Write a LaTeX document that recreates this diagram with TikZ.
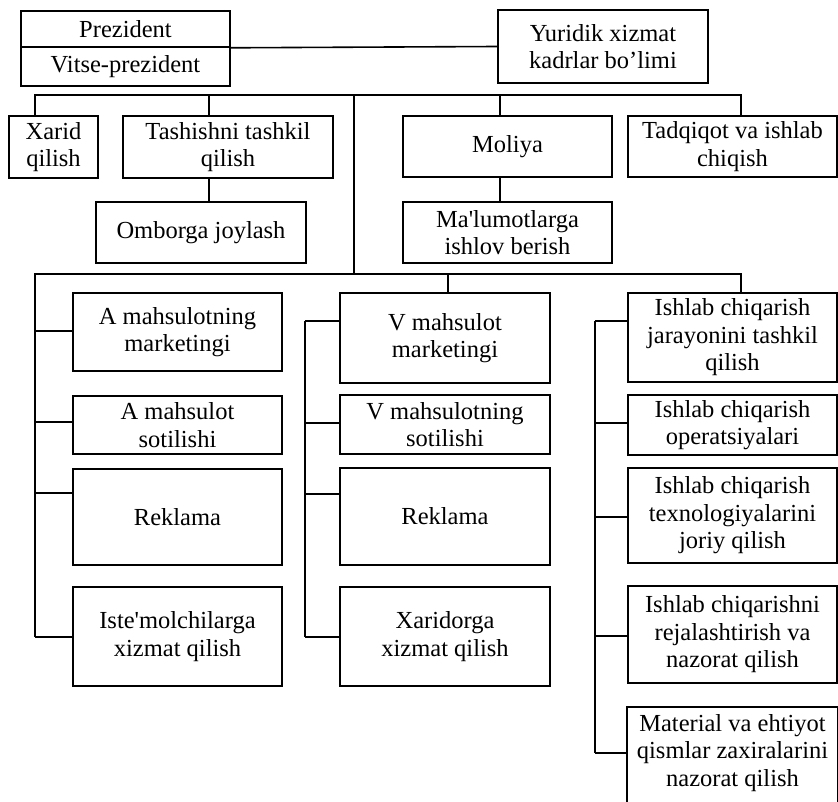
\documentclass[tikz,border=0pt]{standalone}
\usepackage{fontspec}
\setmainfont{Liberation Serif}
\begin{document}
\begin{tikzpicture}[x=1pt,y=-1pt, line width=1.6pt,
  box/.style={draw, inner sep=0pt, align=center,
    font=\fontsize{24.5}{27.5}\selectfont},
  txt/.style={inner sep=0pt, align=center, font=\fontsize{24.5}{27.5}\selectfont}]
\useasboundingbox (0,0) rectangle (838,802);
\clip (0,0) rectangle (838,802);
\fill[white] (0,0) rectangle (838,802);
% top boxes
\node[box, minimum width=209pt, minimum height=36pt] (pz) at (125.5,29) {Prezident};
\node[box, minimum width=209pt, minimum height=39pt] (vp) at (125.5,66.5) {Vitse-prezident};
\node[box, minimum width=210pt, minimum height=73pt] (yur) at (603,46.5) {Yuridik xizmat\\kadrlar bo’limi};
\node[box, minimum width=89pt, minimum height=62pt] (xarid) at (53.5,147) {Xarid\\qilish};
\node[box, minimum width=210pt, minimum height=62pt] (tash) at (228,147) {Tashishni tashkil\\qilish};
\node[box, minimum width=210pt, minimum height=61pt] (omb) at (201,232.5) {Omborga joylash};
\node[box, minimum width=209pt, minimum height=61pt] (mol) at (507.5,146.5) {Moliya};
\node[box, minimum width=209pt, minimum height=61pt] (tad) at (732.5,146.5) {Tadqiqot va ishlab\\chiqish};
\node[box, minimum width=209pt, minimum height=61pt] (mal) at (507.5,232.5) {Ma\textquotesingle lumotlarga\\ishlov berish};
% left column
\node[box, minimum width=209pt, minimum height=78pt] (a1) at (177.5,332) {A mahsulotning\\marketingi};
\node[box, minimum width=209pt, minimum height=58pt] (a2) at (177.5,425) {A mahsulot\\sotilishi};
\node[box, minimum width=209pt, minimum height=96pt] (a3) at (177.5,517) {Reklama};
\node[box, minimum width=209pt, minimum height=99pt] (a4) at (177.5,636.5) {Iste\textquotesingle molchilarga\\xizmat qilish};
% middle column
\node[box, minimum width=210pt, minimum height=90pt] (b1) at (445,338) {V mahsulot\\marketingi};
\node[box, minimum width=210pt, minimum height=59pt] (b2) at (445,424.5) {V mahsulotning\\sotilishi};
\node[box, minimum width=210pt, minimum height=97pt] (b3) at (445,516.5) {Reklama};
\node[box, minimum width=210pt, minimum height=99pt] (b4) at (445,636.5) {Xaridorga\\xizmat qilish};
% right column
\node[box, minimum width=209pt, minimum height=89pt] (c1) at (732.5,337.5) {Ishlab chiqarish\\jarayonini tashkil\\qilish};
\node[box, minimum width=209pt, minimum height=60pt] (c2) at (732.5,425) {Ishlab chiqarish\\operatsiyalari};
\node[box, minimum width=209pt, minimum height=95pt] (c3) at (732.5,515.5) {Ishlab chiqarish\\texnologiyalarini\\joriy qilish};
\node[box, minimum width=209pt, minimum height=97pt] (c4) at (732.5,634.5) {Ishlab chiqarishni\\rejalashtirish va\\nazorat qilish};
\node[txt, minimum width=209pt, minimum height=90pt] (c5) at (732.5,753) {Material va ehtiyot\\qismlar zaxiralarini\\nazorat qilish};
\draw ([yshift=-20pt]c5.south west) -- (c5.north west) -- (c5.north east) -- ([yshift=-20pt]c5.south east);
% coordinates
\coordinate (tb1) at (35,95);
\coordinate (tb2) at (741,95);
\coordinate (d2) at (209,95);
\coordinate (d3) at (354,95);
\coordinate (d4) at (500,95);
\coordinate (bb1) at (35,274);
\coordinate (bb2) at (741,274);
\coordinate (d5) at (448,274);
\coordinate (la1) at (35,331);
\coordinate (la2) at (35,422);
\coordinate (la3) at (35,493);
\coordinate (la4) at (35,637);
\coordinate (mb1) at (305,321);
\coordinate (mb2) at (305,423);
\coordinate (mb3) at (305,494);
\coordinate (mb4) at (305,637);
\coordinate (rb1) at (595,321);
\coordinate (rb2) at (595,423);
\coordinate (rb3) at (595,517);
\coordinate (rb4) at (595,636);
\coordinate (rb5) at (595,753);
% connectors
\draw (pz.south east) -- (yur.west);
\draw (xarid.north -| tb1) -- (tb1) -- (tb2) -- (tad.north -| tb2);
\draw (d2) -- (d2 |- tash.north);
\draw (tash.south -| d2) -- (omb.north -| d2);
\draw (d3) -- (d3 |- bb1);
\draw (d4) -- (d4 |- mol.north);
\draw (mol.south -| d4) -- (mal.north -| d4);
\draw (la4) -- (bb1) -- (bb2) -- (bb2 |- c1.north);
\draw (d5) -- (d5 |- b1.north);
\draw (la1) -- (la1 -| a1.west);
\draw (la2) -- (la2 -| a2.west);
\draw (la3) -- (la3 -| a3.west);
\draw (la4) -- (la4 -| a4.west);
\draw (mb1) -- (mb4);
\draw (mb1) -- (mb1 -| b1.west);
\draw (mb2) -- (mb2 -| b2.west);
\draw (mb3) -- (mb3 -| b3.west);
\draw (mb4) -- (mb4 -| b4.west);
\draw (rb1) -- (rb5);
\draw (rb1) -- (rb1 -| c1.west);
\draw (rb2) -- (rb2 -| c2.west);
\draw (rb3) -- (rb3 -| c3.west);
\draw (rb4) -- (rb4 -| c4.west);
\draw (rb5) -- (rb5 -| c5.west);
\end{tikzpicture}
\end{document}
